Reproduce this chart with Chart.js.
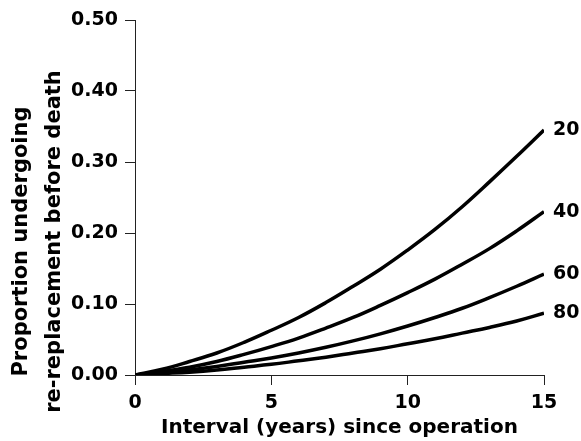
<!DOCTYPE html>
<html>
<head>
<meta charset="utf-8">
<script src="https://cdn.jsdelivr.net/npm/chart.js@4.4.1/dist/chart.umd.min.js"></script>
<style>
  html, body { margin: 0; padding: 0; background: #fff; }
  canvas { display: block; }
</style>
</head>
<body>
<canvas id="canvas-rerep" width="581" height="441"></canvas>
<script>
// interval since operation (years)
const years = [0, 1, 2, 3, 4, 5, 6, 7, 8, 9, 10, 11, 12, 13, 14, 15];
// age at operation, one curve each
const ageLabels = ['20', '40', '60', '80'];
const age20 = [0, 0.008, 0.019, 0.031, 0.046, 0.063, 0.081, 0.102, 0.125, 0.149, 0.176, 0.205, 0.237, 0.272, 0.308, 0.345];
const age40 = [0, 0.005, 0.011, 0.019, 0.029, 0.040, 0.052, 0.066, 0.081, 0.098, 0.116, 0.135, 0.156, 0.178, 0.203, 0.230];
const age60 = [0, 0.003, 0.007, 0.012, 0.018, 0.024, 0.031, 0.039, 0.048, 0.058, 0.069, 0.081, 0.094, 0.109, 0.125, 0.142];
const age80 = [0, 0.002, 0.004, 0.007, 0.011, 0.015, 0.020, 0.025, 0.031, 0.037, 0.044, 0.051, 0.059, 0.067, 0.076, 0.087];
const yTicks = [0, 0.1, 0.2, 0.3, 0.4, 0.5];
const xTicks = [0, 5, 10, 15];
const yTitle = ['Proportion undergoing', 're-replacement before death'];
const xTitle = 'Interval (years) since operation';

Chart.defaults.font.family = "'DejaVu Sans', sans-serif";
Chart.defaults.font.weight = 'bold';
Chart.defaults.color = '#000';

function toPoints(values) {
    return values.map((v, i) => ({ x: years[i], y: v }));
}

const allSeries = [age20, age40, age60, age80];

// writes the age next to the end of each curve
const endLabels = {
    id: 'endLabels',
    afterDatasetsDraw(chart) {
        const c = chart.ctx;
        c.save();
        c.font = "bold 19px 'DejaVu Sans', sans-serif";
        c.fillStyle = '#000';
        c.textAlign = 'left';
        c.textBaseline = 'middle';
        chart.data.datasets.forEach((ds, i) => {
            const pts = chart.getDatasetMeta(i).data;
            const last = pts[pts.length - 1];
            c.fillText(ageLabels[i], last.x + 9, last.y);
        });
        c.restore();
    }
};

// two line y title, sits a bit lower than the plot centre like the original
const yTitlePlugin = {
    id: 'yTitlePlugin',
    afterDraw(chart) {
        const c = chart.ctx;
        const area = chart.chartArea;
        const cy = (area.top + area.bottom) / 2 + 44;
        c.save();
        c.font = "bold 21px 'DejaVu Sans', sans-serif";
        c.fillStyle = '#000';
        c.textAlign = 'center';
        c.textBaseline = 'middle';
        [22, 55].forEach((cx, i) => {
            c.save();
            c.translate(cx, cy);
            c.rotate(-Math.PI / 2);
            c.fillText(yTitle[i], 0, 0);
            c.restore();
        });
        c.restore();
    }
};

const canvas = document.getElementById('canvas-rerep');
var ctx = canvas.getContext('2d');
new Chart(ctx, {
    type: 'line',
    data: {
        datasets: allSeries.map((vals, i) => ({
            label: ageLabels[i],
            data: toPoints(vals),
            borderColor: '#000',
            borderWidth: 3.5,
            pointRadius: 0,
            tension: 0.4,
            fill: false
        }))
    },
    options: {
        responsive: false,
        animation: false,
        layout: {
            padding: { top: 20, right: 37, left: 0, bottom: 0 }
        },
        plugins: {
            legend: { display: false },
            tooltip: { enabled: false }
        },
        scales: {
            x: {
                type: 'linear',
                min: 0,
                max: 15,
                afterBuildTicks: (scale) => { scale.ticks = xTicks.map(v => ({ value: v })); },
                afterFit: (scale) => { scale.height = 66; },
                grid: {
                    drawOnChartArea: false,
                    tickLength: 10,
                    tickColor: '#222',
                    tickWidth: 1
                },
                border: { display: true, color: '#222', width: 1 },
                ticks: {
                    padding: 7,
                    font: { size: 19, weight: 'bold' },
                    maxRotation: 0
                },
                title: {
                    display: true,
                    text: xTitle,
                    font: { size: 20, weight: 'bold' },
                    padding: { top: 0, bottom: 1 }
                }
            },
            y: {
                min: 0,
                max: 0.5,
                afterBuildTicks: (scale) => { scale.ticks = yTicks.map(v => ({ value: v })); },
                afterFit: (scale) => { scale.width = 135; },
                grid: {
                    drawOnChartArea: false,
                    tickLength: 10,
                    tickColor: '#222',
                    tickWidth: 1
                },
                border: { display: true, color: '#222', width: 1 },
                ticks: {
                    padding: 7,
                    font: { size: 19, weight: 'bold' },
                    callback: (v) => Number(v).toFixed(2)
                }
            }
        }
    },
    plugins: [endLabels, yTitlePlugin]
});
</script>
</body>
</html>
